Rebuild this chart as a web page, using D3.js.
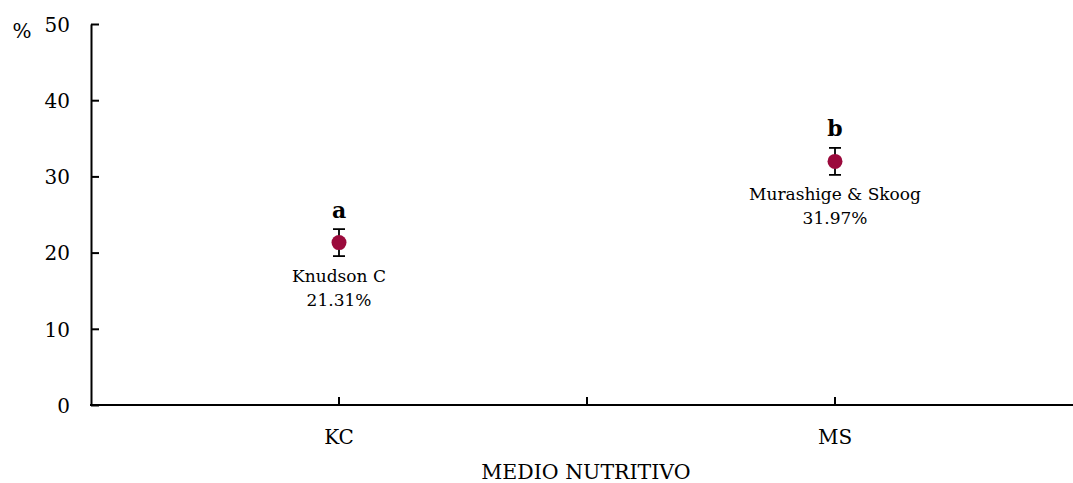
<!DOCTYPE html>
<html>
<head>
<meta charset="utf-8">
<script src="https://cdn.jsdelivr.net/npm/d3@7"></script>
<style>
  html, body { margin: 0; padding: 0; background: #fff; }
  svg { display: block; }
  text { font-family: "DejaVu Serif", "Liberation Serif", serif; fill: #000; }
</style>
</head>
<body>
<svg id="chart" width="1073" height="483"></svg>
<script>
// Germination percentage by nutrient medium
const categories = ["KC", "MS"];
const mediumNames = ["Knudson C", "Murashige & Skoog"];
const meanValues = [21.31, 31.97];
const errorValues = [1.77, 1.77];
const groupLetters = ["a", "b"];
const yTicks = [0, 10, 20, 30, 40, 50];

const svg = d3.select("#chart");
const margin = { left: 91, right: -10, top: 24, bottom: 78 };
const width = 1073, height = 483;

const x = d3.scaleBand()
  .domain(categories)
  .range([margin.left, width - margin.right])
  .paddingInner(0).paddingOuter(0);

const y = d3.scaleLinear()
  .domain([0, 50])
  .range([height - margin.bottom, margin.top]);

// Y axis with ticks pointing into the plot
const yAxis = svg.append("g")
  .attr("transform", `translate(${margin.left},0)`)
  .call(d3.axisLeft(y).tickValues(yTicks).tickSize(0).tickPadding(21));
yAxis.select(".domain").attr("stroke", "#000").attr("stroke-width", 2);
yAxis.selectAll(".tick line")
  .attr("x1", 0).attr("x2", 8)
  .attr("stroke", "#000").attr("stroke-width", 2);
yAxis.selectAll(".tick text")
  .style("font-size", "20px")
  .attr("dy", "0.36em");

// X axis: ticks at category centres and boundaries, pointing up
const xAxis = svg.append("g")
  .attr("transform", `translate(0,${y(0)})`);
xAxis.append("line")
  .attr("x1", margin.left - 1).attr("x2", width)
  .attr("y1", 0).attr("y2", 0)
  .attr("stroke", "#000").attr("stroke-width", 2);
const tickXs = categories.map(c => x(c) + x.bandwidth() / 2)
  .concat(categories.slice(1).map(c => x(c)));
xAxis.selectAll("line.xtick")
  .data(tickXs)
  .join("line")
  .attr("class", "xtick")
  .attr("x1", d => d).attr("x2", d => d)
  .attr("y1", -8).attr("y2", 0)
  .attr("stroke", "#000").attr("stroke-width", 2);
xAxis.selectAll("text.cat")
  .data(categories)
  .join("text")
  .attr("class", "cat")
  .attr("x", d => x(d) + x.bandwidth() / 2)
  .attr("y", 39)
  .attr("text-anchor", "middle")
  .style("font-size", "20px")
  .text(d => d);

// Axis titles
svg.append("text")
  .attr("x", 586)
  .attr("y", 479)
  .attr("text-anchor", "middle")
  .style("font-size", "20.5px")
  .text("MEDIO NUTRITIVO");
svg.append("text")
  .attr("x", 22)
  .attr("y", 38)
  .attr("text-anchor", "middle")
  .style("font-size", "20px")
  .text("%");

// Points, error bars and annotations
const groups = svg.append("g").selectAll("g")
  .data(categories.map((c, i) => ({
    cat: c, name: mediumNames[i], v: meanValues[i], e: errorValues[i], letter: groupLetters[i]
  })))
  .join("g")
  .attr("transform", d => `translate(${x(d.cat) + x.bandwidth() / 2},0)`);

groups.append("line")
  .attr("x1", 0).attr("x2", 0)
  .attr("y1", d => y(d.v + d.e)).attr("y2", d => y(d.v - d.e))
  .attr("stroke", "#000").attr("stroke-width", 1.8);
groups.selectAll("line.cap")
  .data(d => [d.v + d.e, d.v - d.e])
  .join("line")
  .attr("class", "cap")
  .attr("x1", -6).attr("x2", 6)
  .attr("y1", d => y(d)).attr("y2", d => y(d))
  .attr("stroke", "#000").attr("stroke-width", 1.8);
groups.append("circle")
  .attr("cx", 0)
  .attr("cy", d => y(d.v))
  .attr("r", 7.5)
  .attr("fill", "#9b0a3c");

groups.append("text")
  .attr("y", d => y(d.v) - 25)
  .attr("text-anchor", "middle")
  .style("font-size", "22px")
  .style("font-weight", "bold")
  .text(d => d.letter);
groups.append("text")
  .attr("y", d => y(d.v) + 39)
  .attr("text-anchor", "middle")
  .style("font-size", "17px")
  .text(d => d.name);
groups.append("text")
  .attr("y", d => y(d.v) + 63)
  .attr("text-anchor", "middle")
  .style("font-size", "17px")
  .text(d => d.v.toFixed(2) + "%");
</script>
</body>
</html>
